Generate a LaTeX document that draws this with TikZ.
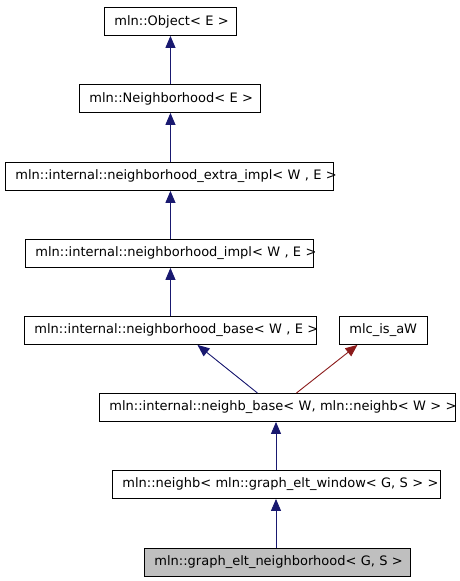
\documentclass[tikz,border=0pt]{standalone}
\usepackage{fontspec}
\setmainfont{DejaVu Sans}
\usetikzlibrary{arrows.meta,calc}
\definecolor{edgeblue}{HTML}{191970}
\definecolor{edgered}{HTML}{8B1A1A}
\definecolor{hlgray}{HTML}{BFBFBF}
\tikzset{
  cls/.style={draw=black, line width=0.9pt, anchor=north west, inner xsep=10pt, inner ysep=0pt,
    minimum height=28pt, align=left, font=\fontsize{13}{15}\selectfont},
  pub/.style={draw=edgeblue, line width=0.9pt, -{Triangle[width=10pt,length=12pt]}},
  tpl/.style={draw=edgered, line width=0.9pt, -{Triangle[width=10pt,length=12pt]}, fill=none},
}
\begin{document}
\begin{tikzpicture}[x=1pt,y=-1pt]
\useasboundingbox (0,0) rectangle (459,581);
\node[cls, text width=112pt] (obj) at (104,7) {\mbox{mln::Object< E >}};
\node[cls, text width=161pt] (nh) at (79,84) {\mbox{mln::Neighborhood< E >}};
\node[cls, text width=308pt] (ext) at (5,162) {\mbox{mln::internal::neighborhood\_extra\_impl< W , E >}};
\node[cls, text width=268pt] (impl) at (25,239) {\mbox{mln::internal::neighborhood\_impl< W , E >}};
\node[cls, text width=272pt] (base) at (24,316) {\mbox{mln::internal::neighborhood\_base< W , E >}};
\node[cls, text width=68pt] (mlc) at (339,316) {\mbox{mlc\_is\_aW}};
\node[cls, text width=336pt] (nb) at (99,393) {\mbox{mln::internal::neighb\_base< W, mln::neighb< W > >}};
\node[cls, text width=308pt] (nbw) at (112,470) {\mbox{mln::neighb< mln::graph\_elt\_window< G, S > >}};
\node[cls, text width=246pt, fill=hlgray] (gen) at (144,548) {\mbox{mln::graph\_elt\_neighborhood< G, S >}};
\draw[pub] (nh.north -| obj.south) -- (obj.south);
\draw[pub] (ext.north -| obj.south) -- (nh.south -| obj.south);
\draw[pub] (impl.north -| obj.south) -- (ext.south -| obj.south);
\draw[pub] (base.north -| obj.south) -- (impl.south -| obj.south);
\draw[pub] ($(nb.north)+(-20,0)$) -- ($(base.south)+(27,0)$);
\draw[tpl] ($(nb.north)+(19,0)$) -- ($(mlc.south)+(-26,0)$);
\draw[pub] (nbw.north -| 276,0) -- (nb.south -| 276,0);
\draw[pub] (gen.north -| 276,0) -- (nbw.south -| 276,0);
\end{tikzpicture}
\end{document}
